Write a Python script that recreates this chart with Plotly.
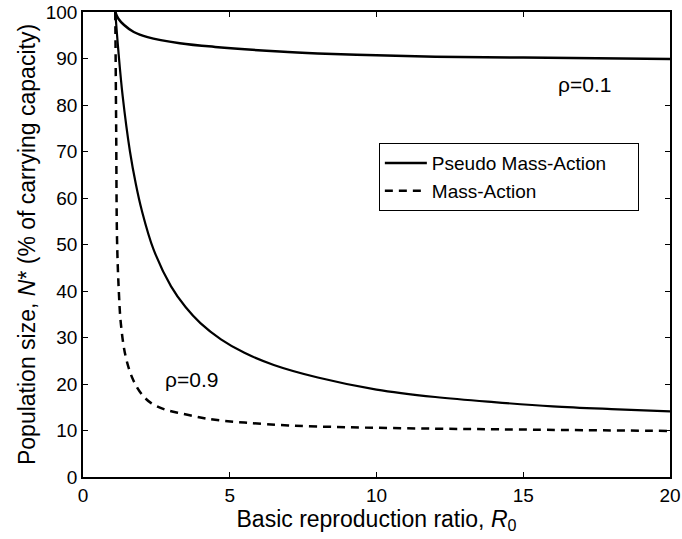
import plotly.graph_objects as go

# Pseudo mass-action, rho = 0.1
r_pma_01 = [1.1, 1.2, 1.4, 1.73, 2.2, 3.3, 4.5, 6.7, 8.0, 10.0, 12.0, 15.0, 20.0]
n_pma_01 = [100, 98.6, 97.2, 95.7, 94.6, 93.3, 92.5, 91.5, 91.1, 90.7, 90.4, 90.2, 89.9]

# Pseudo mass-action, rho = 0.9
r_pma_09 = [1.1, 1.2, 1.35, 1.6, 1.8, 2.0, 2.4, 3.0, 3.5, 4.0, 4.7, 5.5, 6.5, 8.0, 10.0, 12.0, 14.0, 16.0, 18.0, 20.0]
n_pma_09 = [100, 92, 82, 70, 63, 57.4, 49, 41, 36.5, 33.1, 29.6, 26.7, 24.1, 21.4, 18.8, 17.2, 16.1, 15.2, 14.6, 14.1]

# Mass-action, rho = 0.9
r_ma_09 = [1.1, 1.13, 1.16, 1.22, 1.29, 1.45, 1.7, 2.0, 2.3, 2.8, 3.4, 4.0, 4.5, 5.5, 7.0, 9.0, 12.0, 15.0, 20.0]
n_ma_09 = [100, 75, 51, 40, 33, 26, 21, 17.8, 16, 14.5, 13.6, 12.8, 12.3, 11.7, 11.1, 10.7, 10.4, 10.2, 9.9]

x_ticks = [0, 5, 10, 15, 20]
y_ticks = [0, 10, 20, 30, 40, 50, 60, 70, 80, 90, 100]

legend_names = ["Pseudo Mass-Action", "Mass-Action"]
labels = ["\u03c1=0.1", "\u03c1=0.9"]

FONT = "Liberation Sans, Arial, Helvetica"
PAD = "\u00a0" * 5

fig = go.Figure()
fig.add_trace(go.Scatter(x=r_pma_01, y=n_pma_01, mode="lines", name=legend_names[0] + PAD,
                         line=dict(color="black", width=2.5, shape="spline"), showlegend=True))
fig.add_trace(go.Scatter(x=r_pma_09, y=n_pma_09, mode="lines", name=legend_names[0],
                         line=dict(color="black", width=2.2, shape="spline"), showlegend=False))
fig.add_trace(go.Scatter(x=r_ma_09, y=n_ma_09, mode="lines", name=legend_names[1],
                         line=dict(color="black", width=2.5, dash="8px,6px", shape="spline"), showlegend=True))

fig.add_annotation(x=17.07, y=84.5, text=labels[0], showarrow=False,
                   font=dict(size=21, color="black", family=FONT), xanchor="center", yanchor="middle")
fig.add_annotation(x=3.7, y=21, text=labels[1], showarrow=False,
                   font=dict(size=21, color="black", family=FONT), xanchor="center", yanchor="middle")

axis_common = dict(showline=True, linecolor="black", linewidth=1.5, mirror="allticks",
                   ticks="inside", ticklen=5, tickcolor="black", showgrid=False, zeroline=False,
                   automargin=False,
                   tickfont=dict(size=19, color="black", family=FONT))

fig.update_layout(
    width=682, height=539,
    margin=dict(l=83, r=12, t=12, b=62),
    paper_bgcolor="white", plot_bgcolor="white",
    font=dict(family=FONT, color="black"),
    xaxis=dict(range=[0, 20], tickvals=x_ticks, ticktext=[str(v) for v in x_ticks],
               title=dict(text="Basic reproduction ratio, <i>R</i><sub>0</sub>",
                          font=dict(size=23, color="black"), standoff=2),
               **axis_common),
    yaxis=dict(range=[0, 100], tickvals=y_ticks, ticktext=[str(v) for v in y_ticks],
               title=dict(text="Population size, <i>N</i>* (% of carrying capacity)",
                          font=dict(size=23, color="black"), standoff=4),
               **axis_common),
    legend=dict(x=0.504, y=0.718, xanchor="left", yanchor="top",
                bordercolor="black", borderwidth=1, bgcolor="white",
                font=dict(size=19, color="black"), tracegroupgap=0,
                itemwidth=42),
    showlegend=True,
)

fig.write_html("out.html")
